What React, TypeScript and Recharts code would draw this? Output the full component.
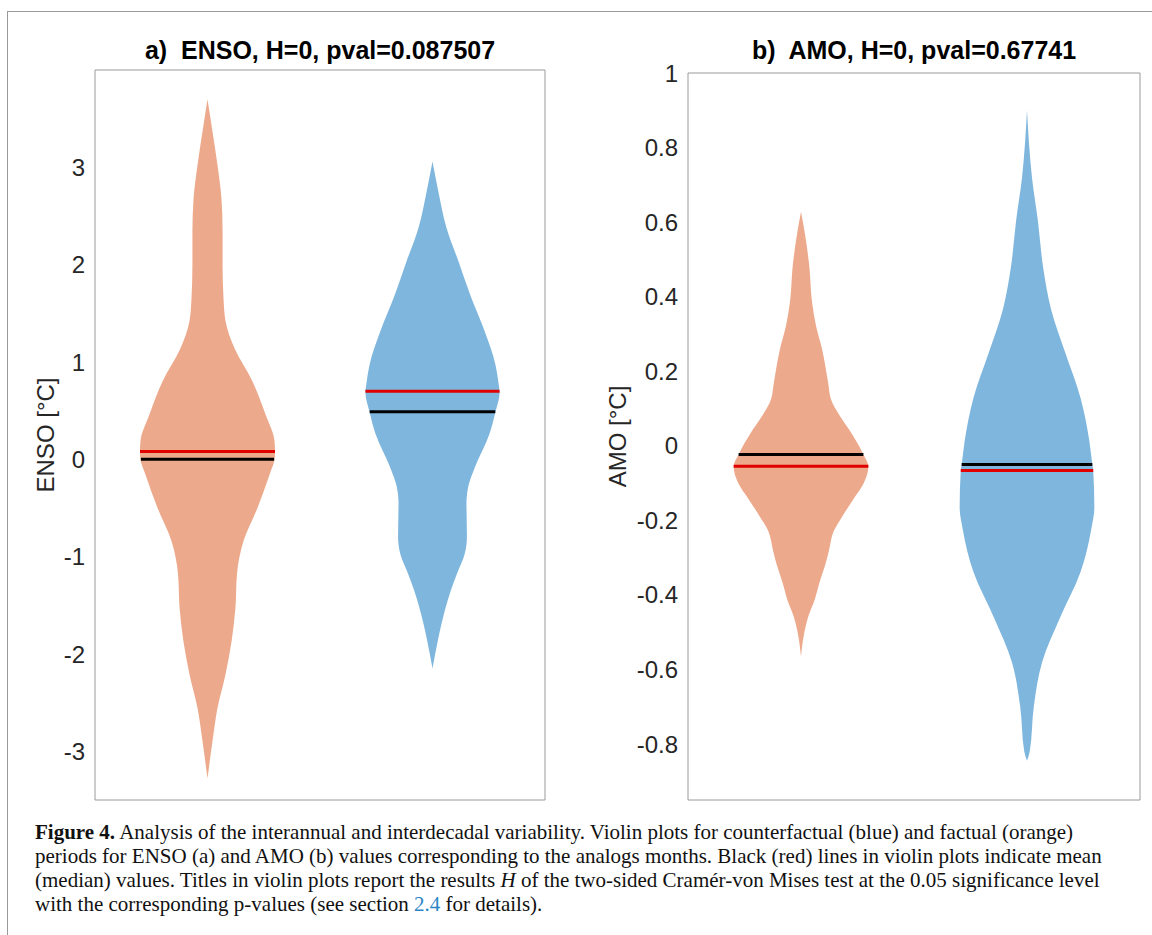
import React from 'react';
import { ComposedChart, Area, XAxis, YAxis, ReferenceLine, ReferenceArea } from 'recharts';

const ORANGE = '#EDA98B';
const BLUE = '#7EB6DE';
const SANS = '"Liberation Sans", Arial, Helvetica, sans-serif';
const SERIF = '"Liberation Serif", "Times New Roman", serif';

// positions of the two violins on the x axis
const FACTUAL_POS = 1;
const COUNTER_POS = 2;

// ---- a) ENSO ----
const ensoTicks = [-3, -2, -1, 0, 1, 2, 3];
const ensoFactualLevels = [3.7, 3.37, 3.03, 2.68, 2.34, 2.0, 1.66, 1.42, 1.14, 0.8, 0.46, 0.185, 0.08, 0.0, -0.155, -0.5, -0.84, -1.18, -1.53, -1.87, -2.21, -2.56, -2.9, -3.28];
const ensoFactualWidth = [0, 0.022, 0.044, 0.062, 0.067, 0.067, 0.071, 0.08, 0.12, 0.2, 0.258, 0.298, 0.3, 0.298, 0.276, 0.222, 0.16, 0.131, 0.124, 0.107, 0.08, 0.044, 0.022, 0];
const ensoCounterLevels = [3.06, 2.74, 2.38, 2.03, 1.68, 1.32, 0.97, 0.79, 0.685, 0.49, 0.26, -0.09, -0.27, -0.45, -0.8, -0.98, -1.15, -1.33, -1.69, -1.86, -2.15];
const ensoCounterWidth = [0, 0.027, 0.062, 0.116, 0.169, 0.231, 0.28, 0.293, 0.298, 0.28, 0.253, 0.187, 0.16, 0.151, 0.153, 0.142, 0.113, 0.084, 0.04, 0.024, 0];
// [factual, counterfactual]
const ensoMean = [0.0, 0.49];
const ensoMeanWidth = [0.296, 0.279];
const ensoMedian = [0.08, 0.7];
const ensoMedianWidth = [0.3, 0.298];

// ---- b) AMO ----
const amoTicks = [-0.8, -0.6, -0.4, -0.2, 0, 0.2, 0.4, 0.6, 0.8, 1];
const amoFactualLevels = [0.628, 0.57, 0.48, 0.39, 0.32, 0.26, 0.17, 0.124, 0.079, 0.035, -0.023, -0.055, -0.1, -0.144, -0.19, -0.23, -0.28, -0.32, -0.37, -0.41, -0.46, -0.5, -0.565];
const amoFactualWidth = [0, 0.017, 0.037, 0.048, 0.067, 0.093, 0.12, 0.133, 0.173, 0.222, 0.276, 0.298, 0.278, 0.231, 0.182, 0.144, 0.124, 0.107, 0.08, 0.062, 0.031, 0.015, 0];
const amoCounterLevels = [0.9, 0.72, 0.6, 0.48, 0.365, 0.25, 0.13, 0.012, -0.05, -0.066, -0.165, -0.225, -0.34, -0.46, -0.58, -0.7, -0.82, -0.845];
const amoCounterWidth = [0, 0.022, 0.049, 0.071, 0.107, 0.169, 0.236, 0.276, 0.289, 0.293, 0.298, 0.284, 0.236, 0.147, 0.067, 0.03, 0.012, 0];
const amoMean = [-0.023, -0.05];
const amoMeanWidth = [0.276, 0.289];
const amoMedian = [-0.055, -0.066];
const amoMedianWidth = [0.298, 0.293];

const toViolin = (levels: number[], widths: number[], pos: number) =>
  levels.map((v, i) => ({ v, range: [pos - widths[i], pos + widths[i]] }));

const YLabel = (props: any) => {
  const { viewBox, text, dx } = props;
  const cx = viewBox.x + dx;
  const cy = viewBox.y + viewBox.height / 2;
  return (
    <text
      x={cx}
      y={cy}
      transform={`rotate(-90 ${cx} ${cy})`}
      textAnchor="middle"
      dominantBaseline="central"
      fill="#262626"
      fontSize={24}
      fontFamily={SANS}
    >
      {text}
    </text>
  );
};

interface PanelProps {
  width: number;
  height: number;
  margin: { top: number; right: number; bottom: number; left: number };
  axisWidth: number;
  labelDx: number;
  label: string;
  domain: [number, number];
  ticks: number[];
  factual: { v: number; range: number[] }[];
  counter: { v: number; range: number[] }[];
  mean: number[];
  meanWidth: number[];
  median: number[];
  medianWidth: number[];
}

const Panel: React.FC<PanelProps> = (p) => {
  const positions = [FACTUAL_POS, COUNTER_POS];
  return (
    <ComposedChart layout="vertical" width={p.width} height={p.height} margin={p.margin}>
      <XAxis type="number" domain={[0.5, 2.5]} hide allowDataOverflow />
      <YAxis
        type="number"
        dataKey="v"
        domain={p.domain}
        ticks={p.ticks}
        interval={0}
        reversed
        allowDataOverflow
        width={p.axisWidth}
        axisLine={false}
        tickLine={false}
        tickSize={0}
        tickMargin={10}
        tick={{ fill: '#262626', fontSize: 24, fontFamily: SANS }}
        label={<YLabel text={p.label} dx={p.labelDx} />}
      />
      <ReferenceArea
        x1={0.5}
        x2={2.5}
        y1={p.domain[0]}
        y2={p.domain[1]}
        fill="none"
        stroke="#9a9a9a"
        strokeWidth={1}
        ifOverflow="visible"
      />
      <Area
        data={p.factual}
        dataKey="range"
        type="monotone"
        fill={ORANGE}
        fillOpacity={1}
        stroke="none"
        isAnimationActive={false}
      />
      <Area
        data={p.counter}
        dataKey="range"
        type="monotone"
        fill={BLUE}
        fillOpacity={1}
        stroke="none"
        isAnimationActive={false}
      />
      {positions.map((pos, i) => (
        <ReferenceLine
          key={`med-${i}`}
          segment={[
            { x: pos - p.medianWidth[i], y: p.median[i] },
            { x: pos + p.medianWidth[i], y: p.median[i] },
          ]}
          stroke="#e00000"
          strokeWidth={3}
          ifOverflow="visible"
        />
      ))}
      {positions.map((pos, i) => (
        <ReferenceLine
          key={`mean-${i}`}
          segment={[
            { x: pos - p.meanWidth[i], y: p.mean[i] },
            { x: pos + p.meanWidth[i], y: p.mean[i] },
          ]}
          stroke="#000000"
          strokeWidth={3}
          ifOverflow="visible"
        />
      ))}
    </ComposedChart>
  );
};

const titleStyle: React.CSSProperties = {
  position: 'absolute',
  top: 36,
  fontFamily: SANS,
  fontWeight: 'bold',
  fontSize: 25,
  lineHeight: '28px',
  textAlign: 'center',
  color: '#000',
  whiteSpace: 'nowrap',
};

const captionLine: React.CSSProperties = {
  whiteSpace: 'nowrap',
  height: 24,
  lineHeight: '24px',
};

export default function App() {
  return (
    <div
      style={{
        position: 'absolute',
        left: 0,
        top: 0,
        width: 1152,
        height: 935,
        background: '#fff',
        overflow: 'hidden',
      }}
    >
      {/* figure frame */}
      <div style={{ position: 'absolute', left: 7, top: 11, width: 1145, height: 0, borderTop: '1px solid #9a9a9a' }} />
      <div style={{ position: 'absolute', left: 7, top: 11, width: 0, height: 924, borderLeft: '1px solid #9a9a9a' }} />

      <div style={{ ...titleStyle, left: 95, width: 450 }}>a)&nbsp; ENSO, H=0, pval=0.087507</div>
      <div style={{ ...titleStyle, left: 688, width: 452 }}>b)&nbsp; AMO, H=0, pval=0.67741</div>

      <div style={{ position: 'absolute', left: 0, top: 0 }}>
        <Panel
          width={560}
          height={810}
          margin={{ top: 70, right: 15, bottom: 10, left: 0 }}
          axisWidth={95}
          labelDx={45}
          label="ENSO [°C]"
          domain={[-3.5, 4]}
          ticks={ensoTicks}
          factual={toViolin(ensoFactualLevels, ensoFactualWidth, FACTUAL_POS)}
          counter={toViolin(ensoCounterLevels, ensoCounterWidth, COUNTER_POS)}
          mean={ensoMean}
          meanWidth={ensoMeanWidth}
          median={ensoMedian}
          medianWidth={ensoMedianWidth}
        />
      </div>
      <div style={{ position: 'absolute', left: 580, top: 0 }}>
        <Panel
          width={572}
          height={810}
          margin={{ top: 73, right: 12, bottom: 10, left: 0 }}
          axisWidth={108}
          labelDx={37}
          label="AMO  [°C]"
          domain={[-0.95, 1]}
          ticks={amoTicks}
          factual={toViolin(amoFactualLevels, amoFactualWidth, FACTUAL_POS)}
          counter={toViolin(amoCounterLevels, amoCounterWidth, COUNTER_POS)}
          mean={amoMean}
          meanWidth={amoMeanWidth}
          median={amoMedian}
          medianWidth={amoMedianWidth}
        />
      </div>

      <div
        style={{
          position: 'absolute',
          left: 35,
          top: 820,
          fontFamily: SERIF,
          fontSize: 21,
          color: '#111',
        }}
      >
        <div style={captionLine}>
          <b>Figure 4.</b> Analysis of the interannual and interdecadal variability. Violin plots for counterfactual (blue) and factual (orange)
        </div>
        <div style={captionLine}>
          periods for ENSO (a) and AMO (b) values corresponding to the analogs months. Black (red) lines in violin plots indicate mean
        </div>
        <div style={captionLine}>
          (median) values. Titles in violin plots report the results <i>H</i> of the two-sided Cramér-von Mises test at the 0.05 significance level
        </div>
        <div style={captionLine}>
          with the corresponding p-values (see section <span style={{ color: '#2a86c6' }}>2.4</span> for details).
        </div>
      </div>
    </div>
  );
}
